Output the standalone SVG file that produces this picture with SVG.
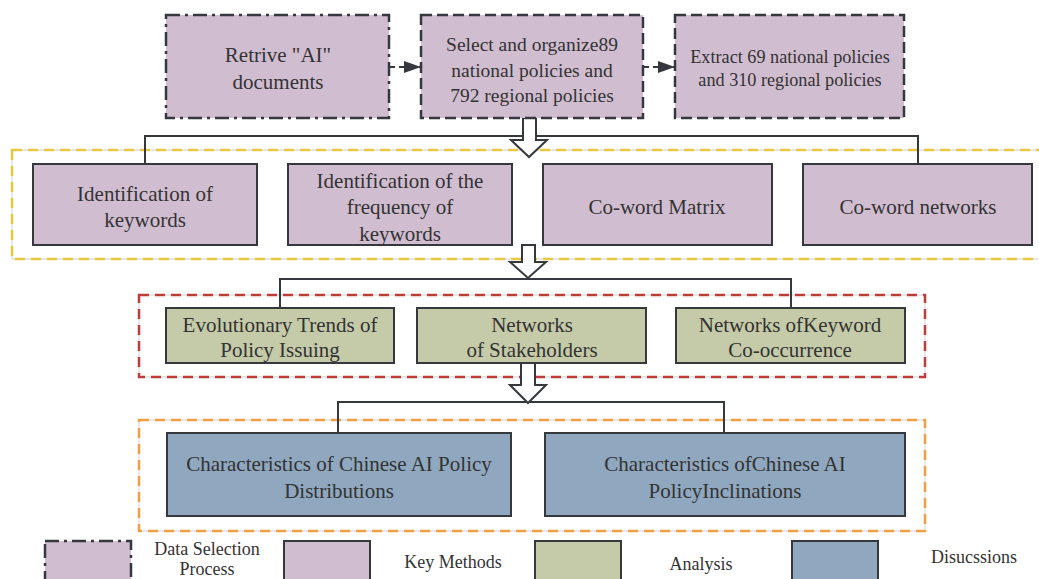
<svg xmlns="http://www.w3.org/2000/svg" width="1039" height="579" viewBox="0 0 1039 579" font-family="'Liberation Serif', 'DejaVu Serif', serif">
<style>
text{font-family:'Liberation Serif','DejaVu Serif',serif;fill:#333;text-anchor:middle;dominant-baseline:central}
.pur{fill:#d1bdd0;stroke:#35383d;stroke-width:2}
.grn{fill:#c5caa8;stroke:#35383d;stroke-width:2}
.blu{fill:#8fa7bf;stroke:#35383d;stroke-width:2}
.dd{stroke-dasharray:14 5 3 5;stroke-width:2.5}
.dsh{stroke-dasharray:11 5;stroke-width:2.5}
.ln{fill:none;stroke:#35383d;stroke-width:2}
.hol{fill:#fff;stroke:#35383d;stroke-width:2;stroke-linejoin:miter}
.frame{fill:none;stroke:#cfcfcf;stroke-width:1}
.t21{font-size:21px}.t19{font-size:19.5px}.t18{font-size:18.2px}.t16{font-size:18px}
</style>
<defs>
<marker id="ah" viewBox="0 0 10 10" refX="10" refY="5" markerWidth="17" markerHeight="12" markerUnits="userSpaceOnUse" orient="auto" preserveAspectRatio="none">
<path d="M0,0 L10,5 L0,10 Z" fill="#35383d"/>
</marker>
</defs>
<rect width="1039" height="579" fill="#fff"/>

<g id="groups">
<rect class="frame" x="12" y="150" width="1040" height="109"/>
<rect x="12" y="150" width="1040" height="109" fill="none" stroke="#e8c840" stroke-width="2.5" stroke-dasharray="10 6"/>
<rect class="frame" x="139" y="295" width="786" height="82"/>
<rect x="139" y="295" width="786" height="82" fill="none" stroke="#c23b3b" stroke-width="2.5" stroke-dasharray="10 6"/>
<rect class="frame" x="139" y="420" width="786" height="111"/>
<rect x="139" y="420" width="786" height="111" fill="none" stroke="#f0a040" stroke-width="2.5" stroke-dasharray="10 6"/>
</g>

<g id="connectors">
<line x1="389" y1="67" x2="421" y2="67" stroke="#35383d" stroke-width="2" stroke-dasharray="6 4" marker-end="url(#ah)"/>
<line x1="643" y1="67" x2="675" y2="67" stroke="#35383d" stroke-width="2" stroke-dasharray="6 4" marker-end="url(#ah)"/>
<polyline class="ln" points="145,164 145,136 918,136 918,164"/>
<polyline class="ln" points="280,308 280,279 791,279 791,308"/>
<polyline class="ln" points="338,433 338,402 724,402 724,433"/>
<polygon class="hol" points="523,118 536,118 536,140 547,140 529,157 511,140 523,140"/>
<polygon class="hol" points="522,245 535,245 535,262 546,262 528,278 510,262 522,262"/>
<polygon class="hol" points="521,363 535,363 535,385 546,385 528,403 510,385 521,385"/>
</g>

<g id="n-retrieve">
<rect class="pur dd" x="166" y="15" width="223" height="103"/>
<text class="t21" x="278" y="55">Retrive "AI"</text>
<text class="t21" x="278" y="82">documents</text>
</g>
<g id="n-select">
<rect class="pur dsh" x="421" y="15" width="222" height="103"/>
<text class="t19" x="532" y="44">Select and organize89</text>
<text class="t19" x="532" y="70">national policies and</text>
<text class="t19" x="532" y="95">792 regional policies</text>
</g>
<g id="n-extract">
<rect class="pur dsh" x="675" y="15" width="229" height="103"/>
<text class="t18" x="790" y="57">Extract 69 national policies</text>
<text class="t18" x="790" y="80">and 310 regional policies</text>
</g>

<g id="n-keywords">
<rect class="pur" x="33" y="164" width="224" height="81"/>
<text class="t21" x="145" y="194">Identification of</text>
<text class="t21" x="145" y="220">keywords</text>
</g>
<g id="n-frequency">
<rect class="pur" x="288" y="164" width="224" height="81"/>
<text class="t21" x="400" y="181">Identification of the</text>
<text class="t21" x="400" y="207">frequency of</text>
<text class="t21" x="400" y="234">keywords</text>
</g>
<g id="n-matrix">
<rect class="pur" x="543" y="164" width="229" height="81"/>
<text class="t21" x="657" y="207">Co-word Matrix</text>
</g>
<g id="n-networks">
<rect class="pur" x="803" y="164" width="229" height="81"/>
<text class="t21" x="918" y="207">Co-word networks</text>
</g>

<g id="n-trends">
<rect class="grn" x="166" y="308" width="228" height="55"/>
<text class="t21" x="280" y="325">Evolutionary Trends of</text>
<text class="t21" x="280" y="350">Policy Issuing</text>
</g>
<g id="n-stakeholders">
<rect class="grn" x="417" y="308" width="229" height="55"/>
<text class="t21" x="532" y="325">Networks</text>
<text class="t21" x="532" y="350">of Stakeholders</text>
</g>
<g id="n-cooccurrence">
<rect class="grn" x="676" y="308" width="229" height="55"/>
<text class="t21" x="790" y="325">Networks ofKeyword</text>
<text class="t21" x="790" y="350">Co-occurrence</text>
</g>

<g id="n-distributions">
<rect class="blu" x="167" y="433" width="344" height="83"/>
<text class="t21" x="339" y="464">Characteristics of Chinese AI Policy</text>
<text class="t21" x="339" y="491">Distributions</text>
</g>
<g id="n-inclinations">
<rect class="blu" x="545" y="433" width="360" height="83"/>
<text class="t21" x="725" y="464">Characteristics ofChinese AI</text>
<text class="t21" x="725" y="491">PolicyInclinations</text>
</g>

<g id="legend">
<rect class="pur dd" x="45" y="541" width="86" height="44"/>
<text class="t16" x="207" y="549">Data Selection</text>
<text class="t16" x="207" y="569">Process</text>
<rect class="pur" x="284" y="541" width="86" height="44"/>
<text class="t16" x="453" y="562">Key Methods</text>
<rect class="grn" x="535" y="541" width="86" height="44"/>
<text class="t16" x="701" y="564">Analysis</text>
<rect class="blu" x="792" y="541" width="86" height="44"/>
<text class="t16" x="974" y="557">Disucssions</text>
</g>
</svg>
